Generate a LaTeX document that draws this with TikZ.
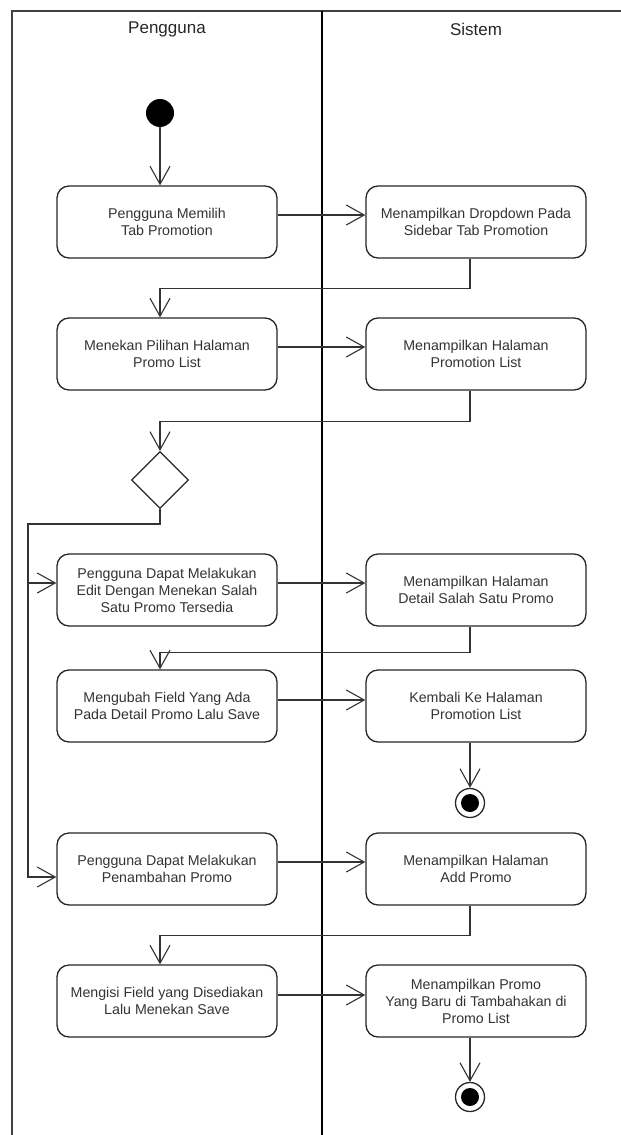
\documentclass[tikz,border=0pt]{standalone}
\usepackage{fontspec}
\setmainfont{Liberation Sans}
\usetikzlibrary{arrows.meta,shapes.geometric}

\begin{document}
\begin{tikzpicture}[x=1pt,y=-1pt,
  act/.style={draw=black!85, line width=1.3pt, rounded corners=12pt,
    minimum width=220pt, minimum height=72pt, inner sep=0pt, align=center,
    font=\fontsize{14.2}{17}\selectfont, text=black!80},
  lane/.style={font=\fontsize{17}{20}\selectfont, text=black!85},
  flow/.style={draw=black!80, line width=1.2pt,
    -{Straight Barb[length=18pt,width=20pt,line width=1.1pt]}},
  link/.style={draw=black!80, line width=1.2pt},
  startnode/.style={circle, fill=black, minimum size=28pt, inner sep=0pt},
  endnode/.style={circle, draw=black!85, line width=1.3pt, minimum size=29pt,
    inner sep=0pt, path picture={\fill[black] (path picture bounding box.center) circle (9pt);}},
  choice/.style={diamond, draw=black!85, line width=1.3pt, aspect=1,
    minimum width=57pt, minimum height=57pt, inner sep=0pt}]

\useasboundingbox (0,0) rectangle (621,1135);

% swimlane frame
\draw[line width=1.5pt, black!75] (12,1135) -- (12,11) -- (621,11);
\draw[line width=2.6pt, black] (322,11) -- (322,1135);
\node[lane] (hUser) at (167,29) {Pengguna};
\node[lane] (hSys) at (476,29) {Sistem};

% nodes
\node[startnode] (start) at (160,113) {};
\node[act] (l1) at (167,222) {Pengguna Memilih\\Tab Promotion};
\node[act] (r1) at (476,222) {Menampilkan Dropdown Pada\\Sidebar Tab Promotion};
\node[act] (l2) at (167,354) {Menekan Pilihan Halaman\\Promo List};
\node[act] (r2) at (476,354) {Menampilkan Halaman\\Promotion List};
\node[choice] (d) at (160,480) {};
\node[act] (l3) at (167,590) {Pengguna Dapat Melakukan\\Edit Dengan Menekan Salah\\Satu Promo Tersedia};
\node[act] (r3) at (476,590) {Menampilkan Halaman\\Detail Salah Satu Promo};
\node[act] (l4) at (167,706) {Mengubah Field Yang Ada\\Pada Detail Promo Lalu Save};
\node[act] (r4) at (476,706) {Kembali Ke Halaman\\Promotion List};
\node[endnode] (e1) at (470,803) {};
\node[act] (l5) at (167,869) {Pengguna Dapat Melakukan\\Penambahan Promo};
\node[act] (r5) at (476,869) {Menampilkan Halaman\\Add Promo};
\node[act] (l6) at (167,1001) {Mengisi Field yang Disediakan\\Lalu Menekan Save};
\node[act] (r6) at (476,1001) {Menampilkan Promo\\Yang Baru di Tambahakan di\\Promo List};
\node[endnode] (e2) at (470,1097) {};

% helper points for the elbows
\coordinate (bus) at (28,524);
\coordinate (j3) at (28,583);
\coordinate (j5) at (28,877);

% connectors
\draw[flow] (start) -- (start |- l1.north);
\draw[flow] ([yshift=7pt]l1.east) -- ([yshift=7pt]r1.west);
\draw[flow] ([xshift=-6pt]r1.south) -- ++(0,30) -| ([xshift=-7pt]l2.north);
\draw[flow] ([yshift=7pt]l2.east) -- ([yshift=7pt]r2.west);
\draw[flow] ([xshift=-6pt]r2.south) -- ++(0,31) -| (d.north);
\draw[link] (d.south) |- (bus) -- (j3);
\draw[flow] (j3) -- (j3 -| l3.west);
\draw[flow] (j3) |- (j5 -| l5.west);
\draw[flow] ([yshift=7pt]l3.east) -- ([yshift=7pt]r3.west);
\draw[flow] ([xshift=-6pt]r3.south) -- ++(0,26) -| ([xshift=-7pt]l4.north);
\draw[flow] ([yshift=6pt]l4.east) -- ([yshift=6pt]r4.west);
\draw[flow] (e1 |- r4.south) -- (e1.north);
\draw[flow] ([yshift=7pt]l5.east) -- ([yshift=7pt]r5.west);
\draw[flow] ([xshift=-6pt]r5.south) -- ++(0,30) -| ([xshift=-7pt]l6.north);
\draw[flow] ([yshift=6pt]l6.east) -- ([yshift=6pt]r6.west);
\draw[flow] (e2 |- r6.south) -- (e2.north);
\end{tikzpicture}
\end{document}
